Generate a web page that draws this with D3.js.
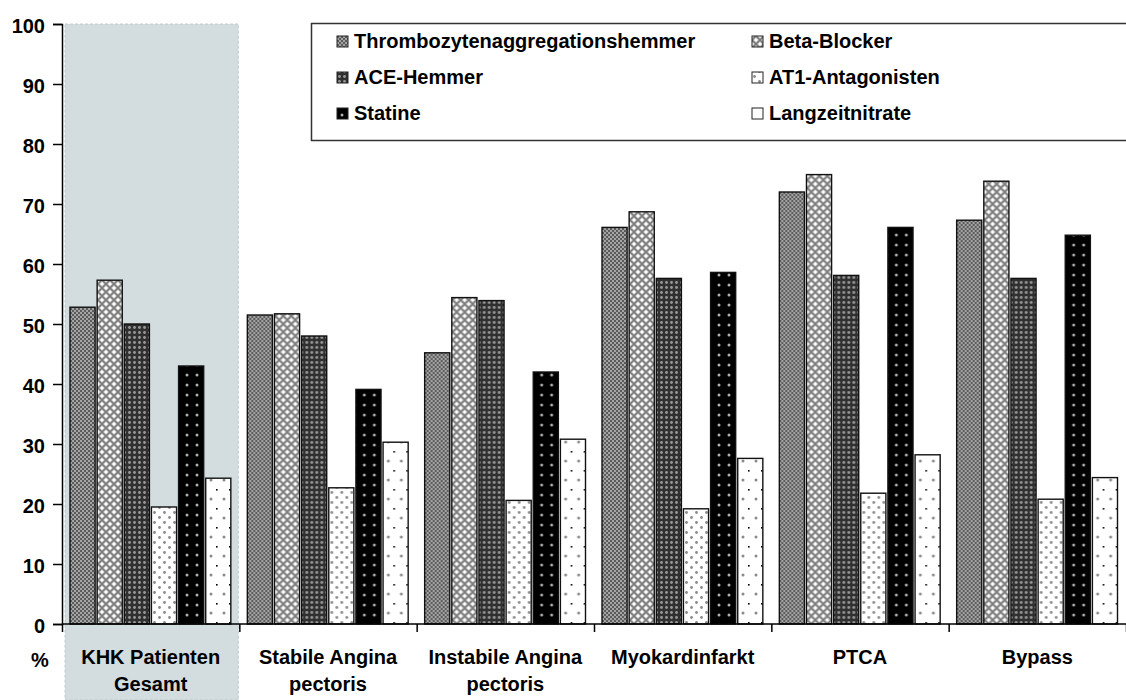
<!DOCTYPE html>
<html>
<head>
<meta charset="utf-8">
<script src="https://cdn.jsdelivr.net/npm/d3@7"></script>
<style>
  html, body { margin: 0; padding: 0; background: #ffffff; }
  svg { display: block; }
  text { font-family: "Liberation Sans", Arial, sans-serif; font-weight: bold; fill: #000; }
</style>
</head>
<body>
<svg id="chart" width="1126" height="700"></svg>
<script>
// Kategorien (Patientengruppen), zweizeilige Beschriftung
const categories = [
  ["KHK Patienten", "Gesamt"],
  ["Stabile Angina", "pectoris"],
  ["Instabile Angina", "pectoris"],
  ["Myokardinfarkt"],
  ["PTCA"],
  ["Bypass"]
];

// Medikamentenklassen
const seriesNames = [
  "Thrombozytenaggregationshemmer",
  "Beta-Blocker",
  "ACE-Hemmer",
  "AT1-Antagonisten",
  "Statine",
  "Langzeitnitrate"
];

// Verordnungsanteile in % je Patientengruppe
const thrombozyten = [52.8, 51.5, 45.2, 66.1, 72.0, 67.3];
const betaBlocker  = [57.3, 51.7, 54.4, 68.7, 74.9, 73.8];
const aceHemmer    = [50.0, 48.0, 53.9, 57.6, 58.1, 57.6];
const at1          = [19.5, 22.7, 20.6, 19.2, 21.8, 20.8];
const statine      = [43.0, 39.1, 42.0, 58.6, 66.1, 64.8];
const langzeit     = [24.3, 30.3, 30.8, 27.6, 28.2, 24.4];

const yTicks = [0, 10, 20, 30, 40, 50, 60, 70, 80, 90, 100];

const seriesValues = [thrombozyten, betaBlocker, aceHemmer, at1, statine, langzeit];

const svg = d3.select("#chart");

// ---------- Füllmuster ----------
const defs = svg.append("defs");

function pattern(id, w, h, build) {
  const p = defs.append("pattern")
    .attr("id", id)
    .attr("patternUnits", "userSpaceOnUse")
    .attr("width", w).attr("height", h);
  build(p);
}

// Thrombozytenaggregationshemmer: feines graues Schachbrett
pattern("pat0", 4, 4, p => {
  p.append("rect").attr("width", 4).attr("height", 4).attr("fill", "#a4a4a4");
  p.append("rect").attr("width", 2).attr("height", 2).attr("fill", "#5c5c5c");
  p.append("rect").attr("x", 2).attr("y", 2).attr("width", 2).attr("height", 2).attr("fill", "#5c5c5c");
});
// Beta-Blocker: helle Kreuzschraffur
pattern("pat1", 8, 8, p => {
  p.append("rect").attr("width", 8).attr("height", 8).attr("fill", "#d8d8d8");
  p.append("path").attr("d", "M0,0L8,8M8,0L0,8").attr("stroke", "#7a7a7a").attr("stroke-width", 1.6);
  p.append("circle").attr("cx", 4).attr("cy", 0).attr("r", 1.2).attr("fill", "#fff");
  p.append("circle").attr("cx", 4).attr("cy", 8).attr("r", 1.2).attr("fill", "#fff");
  p.append("circle").attr("cx", 0).attr("cy", 4).attr("r", 1.2).attr("fill", "#fff");
  p.append("circle").attr("cx", 8).attr("cy", 4).attr("r", 1.2).attr("fill", "#fff");
});
// ACE-Hemmer: dunkel mit grauem Punktraster
pattern("pat2", 5, 5, p => {
  p.append("rect").attr("width", 5).attr("height", 5).attr("fill", "#303030");
  p.append("circle").attr("cx", 2.5).attr("cy", 2.5).attr("r", 1.4).attr("fill", "#9a9a9a");
});
// AT1-Antagonisten: weiß mit versetzten grauen Punkten
pattern("pat3", 10, 10, p => {
  p.append("rect").attr("width", 10).attr("height", 10).attr("fill", "#ffffff");
  p.append("circle").attr("cx", 2.5).attr("cy", 2.5).attr("r", 1.4).attr("fill", "#8a8a8a");
  p.append("circle").attr("cx", 7.5).attr("cy", 7.5).attr("r", 1.4).attr("fill", "#8a8a8a");
});
// Statine: schwarz mit hellen Punkten
pattern("pat4", 10, 10, p => {
  p.append("rect").attr("width", 10).attr("height", 10).attr("fill", "#000000");
  p.append("circle").attr("cx", 5).attr("cy", 5).attr("r", 1.5).attr("fill", "#b0b0b0");
});
// Langzeitnitrate: weiß mit lockeren Punkten
pattern("pat5", 13, 19, p => {
  p.append("rect").attr("width", 13).attr("height", 19).attr("fill", "#ffffff");
  p.append("circle").attr("cx", 6).attr("cy", 5).attr("r", 1.5).attr("fill", "#8a8a8a");
  p.append("rect").attr("x", 11).attr("y", 14).attr("width", 1.6).attr("height", 1.6).attr("fill", "#000");
});

// ---------- Skalen ----------
const axisLeftX = 62;
const plotRight = 1126;
const y0 = 624, y100 = 24;

const y = d3.scaleLinear().domain([0, 100]).range([y0, y100]);

const x0 = d3.scaleBand()
  .domain(d3.range(categories.length))
  .range([axisLeftX, plotRight])
  .padding(0);

const groupW = x0.bandwidth();
const x1 = d3.scaleBand()
  .domain(d3.range(seriesNames.length))
  .range([8, groupW - 8.5])
  .paddingInner(0.075)
  .paddingOuter(0);

// ---------- Hervorgehobene Gesamtgruppe ----------
svg.append("rect")
  .attr("x", x0(0) + 3)
  .attr("y", y(100))
  .attr("width", groupW - 4)
  .attr("height", 700 - y(100))
  .attr("fill", "#d3dcdf")
  .attr("stroke", "#b9c2c4")
  .attr("stroke-width", 0.8)
  .attr("stroke-dasharray", "3,2");

// ---------- Balken ----------
const groups = svg.append("g").attr("class", "bars")
  .selectAll("g")
  .data(categories.map((c, i) => i))
  .join("g")
  .attr("transform", i => `translate(${x0(i)},0)`);

groups.selectAll("rect")
  .data(i => seriesValues.map((vals, s) => ({ s, v: vals[i] })))
  .join("rect")
  .attr("x", d => x1(d.s))
  .attr("y", d => y(d.v))
  .attr("width", x1.bandwidth())
  .attr("height", d => y(0) - y(d.v))
  .attr("fill", d => `url(#pat${d.s})`)
  .attr("stroke", "#111")
  .attr("stroke-width", 1.4);

// ---------- Y-Achse ----------
const yAxis = d3.axisLeft(y)
  .tickValues(yTicks)
  .tickSize(9)
  .tickPadding(8)
  .tickFormat(d3.format("d"));

const gy = svg.append("g")
  .attr("transform", `translate(${axisLeftX},0)`)
  .call(yAxis);
gy.select(".domain").attr("stroke", "#000").attr("stroke-width", 1.5);
gy.selectAll(".tick line").attr("stroke", "#000").attr("stroke-width", 1.5);
gy.selectAll(".tick text")
  .attr("font-size", 20)
  .attr("font-family", "Liberation Sans, Arial, sans-serif")
  .attr("font-weight", "bold")
  .attr("dy", "0.42em");

// ---------- X-Achse ----------
const xAxisScale = d3.scaleLinear().domain([0, categories.length]).range([axisLeftX, plotRight]);
const gx = svg.append("g")
  .attr("transform", `translate(0,${y(0)})`)
  .call(d3.axisBottom(xAxisScale).tickValues(d3.range(categories.length + 1)).tickSize(8).tickFormat(""));
gx.select(".domain").attr("stroke", "#000").attr("stroke-width", 1.5).attr("d", `M${axisLeftX},0H${plotRight}`);
gx.selectAll(".tick line").attr("stroke", "#000").attr("stroke-width", 1.5);

// Kategorienbeschriftung
const labels = svg.append("g").selectAll("text")
  .data(categories.map((c, i) => ({ c, i })))
  .join("text")
  .attr("text-anchor", "middle")
  .attr("font-size", 20)
  .attr("x", d => x0(d.i) + groupW / 2)
  .attr("y", 664);
labels.selectAll("tspan")
  .data(d => d.c.map((line, k) => ({ line, k, x: x0(d.i) + groupW / 2 })))
  .join("tspan")
  .attr("x", t => t.x)
  .attr("dy", t => t.k === 0 ? 0 : 27)
  .text(t => t.line);

// Einheit
svg.append("text")
  .attr("x", 40)
  .attr("y", 667)
  .attr("text-anchor", "middle")
  .attr("font-size", 20)
  .text("%");

// ---------- Legende ----------
const legend = svg.append("g");
legend.append("rect")
  .attr("x", 311.5).attr("y", 23.5)
  .attr("width", 830).attr("height", 117)
  .attr("fill", "#fff")
  .attr("stroke", "#333")
  .attr("stroke-width", 1.5);

const legendCols = [337, 752];
const legendRows = [48, 84, 120];
const items = legend.selectAll("g.item")
  .data(seriesNames.map((n, s) => ({ n, s })))
  .join("g")
  .attr("class", "item")
  .attr("transform", d => `translate(${legendCols[d.s % 2]},${legendRows[Math.floor(d.s / 2)]})`);
items.append("rect")
  .attr("x", 0).attr("y", -12)
  .attr("width", 11).attr("height", 11)
  .attr("fill", d => `url(#pat${d.s})`)
  .attr("stroke", "#222")
  .attr("stroke-width", 1);
items.append("text")
  .attr("x", 17)
  .attr("y", 0)
  .attr("font-size", 20)
  .text(d => d.n);
</script>
</body>
</html>
